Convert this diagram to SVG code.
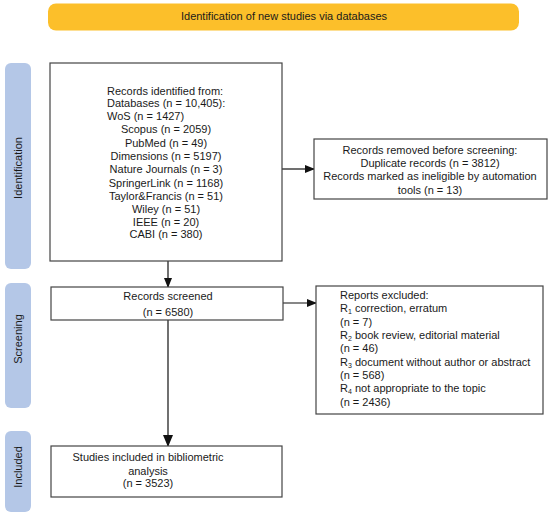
<svg xmlns="http://www.w3.org/2000/svg" width="550" height="516" viewBox="0 0 550 516">
<style>
text{font-family:"Liberation Sans",Arial,sans-serif;font-size:11px;fill:#1a1a1a}
.box{fill:#fff;stroke:#444;stroke-width:1.2}
.side{fill:#b4c7e7}
.c{text-anchor:middle}
.ln{stroke:#111;stroke-width:1.2;fill:none}
.sub{font-size:7px}
</style>
<defs>
<marker id="ah" markerWidth="10" markerHeight="8" refX="9" refY="4" orient="auto" markerUnits="userSpaceOnUse">
<path d="M0,0 L10,4 L0,8 Z" fill="#111"/>
</marker>
<marker id="ahb" markerWidth="12" markerHeight="10" refX="11" refY="5" orient="auto" markerUnits="userSpaceOnUse">
<path d="M0,0 L12,5 L0,10 Z" fill="#111"/>
</marker>
</defs>
<rect width="550" height="516" fill="#fff"/>
<g id="banner">
<rect x="48" y="3.5" width="471" height="27" rx="8" fill="#fcbf2a"/>
<text class="c" x="284" y="20">Identification of new studies via databases</text>
</g>
<g id="side-identification">
<rect class="side" x="5" y="63" width="26" height="206" rx="6"/>
<text class="c" transform="translate(22,168) rotate(-90)">Identification</text>
</g>
<g id="side-screening">
<rect class="side" x="5" y="283" width="26" height="125" rx="6"/>
<text class="c" transform="translate(22,339) rotate(-90)">Screening</text>
</g>
<g id="side-included">
<rect class="side" x="5" y="431" width="26" height="81" rx="6"/>
<text class="c" transform="translate(22,467) rotate(-90)">Included</text>
</g>
<g id="connectors">
<line class="ln" x1="168" y1="261" x2="168" y2="287" marker-end="url(#ah)"/>
<line class="ln" x1="168" y1="320" x2="168" y2="446" marker-end="url(#ahb)"/>
<line class="ln" x1="282" y1="169" x2="314" y2="169" marker-end="url(#ah)"/>
<line class="ln" x1="283" y1="303" x2="316" y2="303" marker-end="url(#ah)"/>
</g>
<g id="records-identified">
<rect class="box" x="50" y="63" width="232" height="198"/>
<text x="107" y="95">Records identified from:</text>
<text x="107" y="107">Databases (n = 10,405):</text>
<text x="107" y="120">WoS (n = 1427)</text>
<text class="c" x="166" y="133">Scopus (n = 2059)</text>
<text class="c" x="166" y="147">PubMed (n = 49)</text>
<text class="c" x="166" y="160">Dimensions (n = 5197)</text>
<text class="c" x="166" y="173">Nature Journals (n = 3)</text>
<text class="c" x="166" y="187">SpringerLink (n = 1168)</text>
<text class="c" x="166" y="200">Taylor&amp;Francis (n = 51)</text>
<text class="c" x="166" y="213">Wiley (n = 51)</text>
<text class="c" x="166" y="226">IEEE (n = 20)</text>
<text class="c" x="166" y="238">CABI (n = 380)</text>
</g>
<g id="records-removed">
<rect class="box" x="314" y="139" width="233" height="60"/>
<text class="c" x="430" y="154">Records removed before screening:</text>
<text class="c" x="430" y="167">Duplicate records (n = 3812)</text>
<text class="c" x="430" y="180">Records marked as ineligible by automation</text>
<text class="c" x="430" y="194">tools (n = 13)</text>
</g>
<g id="records-screened">
<rect class="box" x="51" y="287" width="232" height="33"/>
<text class="c" x="168" y="300">Records screened</text>
<text class="c" x="168" y="316">(n = 6580)</text>
</g>
<g id="reports-excluded">
<rect class="box" x="316" y="286" width="227" height="128"/>
<text x="340" y="299">Reports excluded:</text>
<text x="340" y="312">R<tspan class="sub" dy="2">1</tspan><tspan dy="-2"> correction, erratum</tspan></text>
<text x="340" y="326">(n = 7)</text>
<text x="340" y="339">R<tspan class="sub" dy="2">2</tspan><tspan dy="-2"> book review, editorial material</tspan></text>
<text x="340" y="352">(n = 46)</text>
<text x="340" y="366">R<tspan class="sub" dy="2">3</tspan><tspan dy="-2"> document without author or abstract</tspan></text>
<text x="340" y="379">(n = 568)</text>
<text x="340" y="392">R<tspan class="sub" dy="2">4</tspan><tspan dy="-2"> not appropriate to the topic</tspan></text>
<text x="340" y="406">(n = 2436)</text>
</g>
<g id="studies-included">
<rect class="box" x="51" y="446" width="231" height="51"/>
<text class="c" x="148" y="461">Studies included in bibliometric</text>
<text class="c" x="148" y="475">analysis</text>
<text class="c" x="148" y="487">(n = 3523)</text>
</g>
</svg>
